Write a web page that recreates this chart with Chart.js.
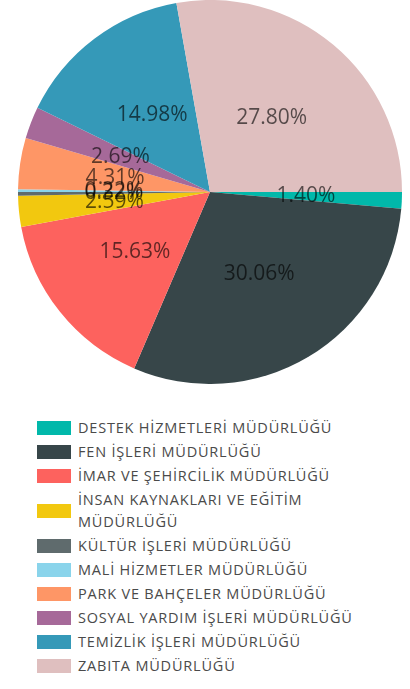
<!DOCTYPE html>
<html>
<head>
<meta charset="utf-8">
<script src="https://cdn.jsdelivr.net/npm/chart.js@4.4.0/dist/chart.umd.min.js"></script>
<style>
  html, body { margin: 0; padding: 0; background: #fff; }
  #wrap { position: relative; width: 410px; height: 689px; overflow: hidden; }
  #pie { position: absolute; left: 0; top: 0; }
  #legend { position: absolute; left: 37px; top: 416px; font-family: "Open Sans", sans-serif; font-size: 14.5px; letter-spacing: 0.8px; color: #4a4a4a; }
  .item { display: flex; align-items: center; padding: 1px 0; }
  .box { width: 34px; height: 14px; flex: none; margin-right: 7px; }
  .txt { line-height: 22px; max-width: 290px; }
</style>
</head>
<body>
<div id="wrap">
  <canvas id="pie" width="410" height="384"></canvas>
  <div id="legend"></div>
</div>
<script>
// birimler
const birimler = [
  'DESTEK HİZMETLERİ MÜDÜRLÜĞÜ',
  'FEN İŞLERİ MÜDÜRLÜĞÜ',
  'İMAR VE ŞEHİRCİLİK MÜDÜRLÜĞÜ',
  'İNSAN KAYNAKLARI VE EĞİTİM MÜDÜRLÜĞÜ',
  'KÜLTÜR İŞLERİ MÜDÜRLÜĞÜ',
  'MALİ HİZMETLER MÜDÜRLÜĞÜ',
  'PARK VE BAHÇELER MÜDÜRLÜĞÜ',
  'SOSYAL YARDIM İŞLERİ MÜDÜRLÜĞÜ',
  'TEMİZLİK İŞLERİ MÜDÜRLÜĞÜ',
  'ZABITA MÜDÜRLÜĞÜ'
];

// yüzdeler
const yuzdeler = [1.40, 30.06, 15.63, 2.59, 0.32, 0.22, 4.31, 2.69, 14.98, 27.80];

const renkler = [
  '#01B8AA', '#374649', '#FD625E', '#F2C80F', '#5F6B6D',
  '#8AD4EB', '#FE9666', '#A66999', '#3599B8', '#DFBFBF'
];

// dilim etiketleri (yüzde yazıları)
const etiketPlugin = {
  id: 'etiketler',
  afterDatasetsDraw(chart) {
    const ctx = chart.ctx;
    const meta = chart.getDatasetMeta(0);
    ctx.save();
    ctx.font = '21px "Open Sans", sans-serif';
    ctx.fillStyle = 'rgba(0,0,0,0.62)';
    ctx.textAlign = 'center';
    ctx.textBaseline = 'middle';
    meta.data.forEach((arc, i) => {
      const pos = arc.tooltipPosition();
      ctx.fillText(yuzdeler[i].toFixed(2) + '%', pos.x, pos.y);
    });
    ctx.restore();
  }
};

new Chart(document.getElementById('pie').getContext('2d'), {
  type: 'pie',
  data: {
    labels: birimler,
    datasets: [{
      data: yuzdeler,
      backgroundColor: renkler,
      borderWidth: 0
    }]
  },
  options: {
    responsive: false,
    animation: false,
    rotation: 90,
    layout: { padding: { left: 10, right: 0, top: 0, bottom: 0 } },
    plugins: {
      legend: { display: false },
      tooltip: { enabled: false }
    }
  },
  plugins: [etiketPlugin]
});

const legend = document.getElementById('legend');
birimler.forEach((ad, i) => {
  const item = document.createElement('div');
  item.className = 'item';
  const box = document.createElement('div');
  box.className = 'box';
  box.style.background = renkler[i];
  const txt = document.createElement('div');
  txt.className = 'txt';
  txt.textContent = ad;
  item.appendChild(box);
  item.appendChild(txt);
  legend.appendChild(item);
});
</script>
</body>
</html>
